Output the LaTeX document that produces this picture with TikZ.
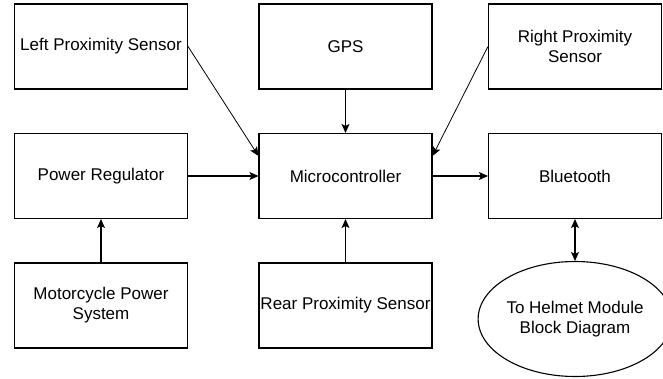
\documentclass[tikz,border=0pt]{standalone}
\usepackage{fontspec}
\setmainfont{Liberation Sans}
\usetikzlibrary{arrows.meta,shapes.geometric}
\begin{document}
\begin{tikzpicture}[x=1pt,y=-1pt,
  blk/.style={draw,line width=1.1pt,minimum width=173pt,minimum height=85pt,inner sep=1pt,align=center,font=\fontsize{17}{20}\selectfont},
  oval/.style={draw,ellipse,line width=1.1pt,minimum width=172pt,minimum height=115pt,inner sep=0pt,align=center,font=\fontsize{17}{20}\selectfont},
  con/.style={line width=1.1pt,-{Stealth[length=9pt,width=8pt,inset=2pt]}},
  con2/.style={line width=1.1pt,{Stealth[length=9pt,width=8pt,inset=2pt]}-{Stealth[length=9pt,width=8pt,inset=2pt]}},
  thin/.style={line width=0.8pt,-{Stealth[length=9pt,width=8pt,inset=2pt]}}]
\useasboundingbox (0,0) rectangle (663,379);
\node[blk] (lps) at (101,46.5) {Left Proximity Sensor};
\node[blk] (gps) at (345.5,46.5) {GPS};
\node[blk] (rps) at (575,46.5) {Right Proximity\\Sensor};
\node[blk] (pr) at (101,176) {Power Regulator};
\node[blk] (mc) at (345.5,176) {Microcontroller};
\node[blk] (bt) at (575,176) {Bluetooth};
\node[blk] (mps) at (101,305.5) {Motorcycle Power\\System};
\node[blk] (rear) at (345.5,305.5) {Rear Proximity Sensor};
\node[oval] (hm) at (575,319) {To Helmet Module\\Block Diagram};
\draw[thin] (lps.east) -- ([yshift=-23pt]mc.north west);
\draw[thin] (rps.west) -- ([yshift=-23pt]mc.north east);
\draw[con] (gps) -- (mc);
\draw[con] (pr) -- (mc);
\draw[con] (mc) -- (bt);
\draw[con] (mps) -- (pr);
\draw[con] (rear) -- (mc);
\draw[con2] (bt) -- (hm);
\end{tikzpicture}
\end{document}
